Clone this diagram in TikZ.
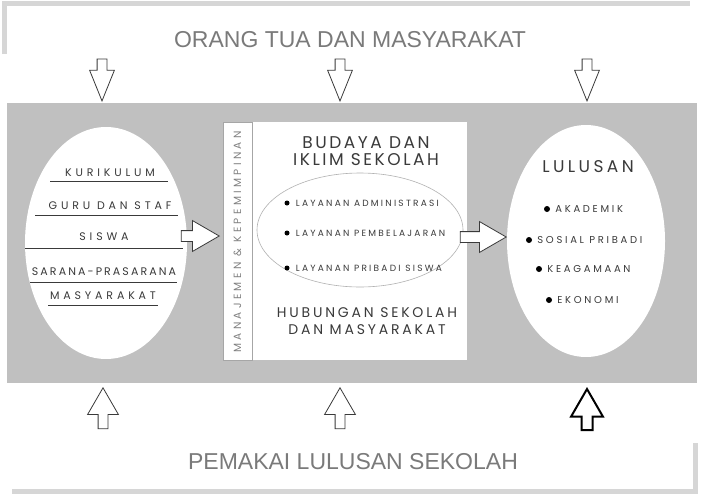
\documentclass[tikz,border=0pt]{standalone}
\usepackage{fontspec}
\setmainfont{Liberation Sans}
\newfontfamily\geo{Poppins}
\usetikzlibrary{shapes.geometric,shapes.arrows,positioning}
\definecolor{panelgray}{RGB}{192,192,192}
\definecolor{shadegray}{RGB}{214,214,214}
\definecolor{inkgray}{RGB}{58,58,58}
\definecolor{titlegray}{RGB}{122,122,122}

\begin{document}
\begin{tikzpicture}[x=1pt,y=-1pt,
  title/.style={font=\fontsize{23}{26}\selectfont, text=titlegray, inner sep=0},
  oval/.style={ellipse, fill=white, inner sep=0},
  item/.style={font=\geo\fontsize{11}{13}\selectfont\addfontfeature{LetterSpace=35},
    text=inkgray, inner sep=0},
  head/.style={font=\geo\fontsize{17}{17}\selectfont\addfontfeature{LetterSpace=15},
    text=inkgray, align=center, inner sep=0},
  small/.style={font=\geo\fontsize{9}{10}\selectfont\addfontfeature{LetterSpace=25},
    text=inkgray, inner sep=0, anchor=west},
  result/.style={small, font=\geo\fontsize{10}{11}\selectfont\addfontfeature{LetterSpace=27}},
  dot/.style={circle, fill=black, inner sep=0, minimum size=6},
  rule/.style={inkgray, line width=0.8},
  blockarrow/.style={single arrow, draw=inkgray, fill=white, line width=0.8, inner sep=4.5},
  downarrow/.style={blockarrow, shape border rotate=270, minimum height=42,
    minimum width=24, single arrow head extend=7.5, single arrow tip angle=44, anchor=tip},
  uparrow/.style={blockarrow, shape border rotate=90, minimum height=41,
    minimum width=30, single arrow head extend=10.5, single arrow tip angle=60, anchor=tip},
  rightarrow/.style={blockarrow, inner sep=5, minimum height=38,
    minimum width=30, single arrow head extend=10, single arrow tip angle=60, anchor=tip}]
  \useasboundingbox (0,0) rectangle (706,498);
  \fill[white] (0,0) rectangle (706,498);

  % top and bottom boxes
  \draw[shadegray, line width=5] (4,54) -- (4,3) -- (690,3);
  \draw[shadegray, line width=5] (12,491) -- (695,491) -- (695,443);
  \node[title] (parents) at (350,40) {ORANG TUA DAN MASYARAKAT};
  \node[title] (users) at (353,462) {PEMAKAI LULUSAN SEKOLAH};

  \node[fill=panelgray, minimum width=690, minimum height=280, inner sep=0] (panel) at (352,243) {};

  % input
  \node[oval, minimum width=162, minimum height=232] (input) at (106,243) {};
  \node[item] (curr) at (110,173) {KURIKULUM};
  \node[item] (staff) at (110,206) {GURU DAN STAF};
  \node[item] (pupil) at (104,237) {SISWA};
  \node[item, font=\geo\fontsize{11}{13}\selectfont\addfontfeature{LetterSpace=19}] (infra)
    at (104,272) {SARANA-PRASARANA};
  \node[item] (soc) at (103,296) {MASYARAKAT};
  \draw[rule] (50,181) -- (168,181);
  \draw[rule] (35,215) -- (178,215);
  \draw[rule] (25,248) -- (183,248);
  \draw[rule] (30,282) -- (177,282);
  \draw[rule] (48,305) -- (158,305);

  % process
  \node[fill=white, minimum width=244, minimum height=238, inner sep=0] (core) at (345,241) {};
  \draw[gray!70, line width=0.6] (223,122) rectangle (252,360);
  \node[rotate=90, font=\geo\fontsize{10.5}{11}\selectfont\addfontfeature{LetterSpace=32},
    text=gray, inner sep=0] (mgmt) at (237.5,242) {MANAJEMEN \& KEPEMIMPINAN};
  \node[head] (culture) at (366,151) {BUDAYA DAN\\IKLIM SEKOLAH};
  \node[ellipse, draw=gray!60, line width=0.6, minimum width=206, minimum height=114,
    inner sep=0] (services) at (360,230) {};
  \node[dot, minimum size=5] (s1) at (287,203) {};
  \node[dot, minimum size=5] (s2) at (287,233) {};
  \node[dot, minimum size=5] (s3) at (287,268) {};
  \node[small, right=6pt of s1] (admin) {LAYANAN ADMINISTRASI};
  \node[small, right=6pt of s2] (learn) {LAYANAN PEMBELAJARAN};
  \node[small, right=6pt of s3] (care) {LAYANAN PRIBADI SISWA};
  \node[head, font=\geo\fontsize{14}{17}\selectfont\addfontfeature{LetterSpace=20}] (relation)
    at (367,321) {HUBUNGAN SEKOLAH\\DAN MASYARAKAT};

  % output
  \node[oval, minimum width=158, minimum height=232] (output) at (586,241) {};
  \node[head, font=\geo\fontsize{17}{17}\selectfont\addfontfeature{LetterSpace=20}] (grad)
    at (588,167) {LULUSAN};
  \node[dot] (g1) at (547,209) {};
  \node[dot] (g2) at (529,240) {};
  \node[dot] (g3) at (539,269) {};
  \node[dot] (g4) at (549,300) {};
  \node[result, right=5pt of g1] (acad) {AKADEMIK};
  \node[result, right=5pt of g2] (social) {SOSIAL PRIBADI};
  \node[result, right=5pt of g3] (faith) {KEAGAMAAN};
  \node[result, right=5pt of g4] (econ) {EKONOMI};

  % arrows
  \node[rightarrow] (feed) at (220,236) {};
  \node[rightarrow, minimum height=46] (yield) at (507,237) {};
  \node[downarrow] (in1) at (102,102) {};
  \node[downarrow] (in2) at (340,102) {};
  \node[downarrow] (in3) at (587,102) {};
  \node[uparrow] (up1) at (103,387) {};
  \node[uparrow] (up2) at (340,387) {};
  \node[uparrow, draw=black, line width=2] (up3) at (587,387) {};
\end{tikzpicture}
\end{document}
